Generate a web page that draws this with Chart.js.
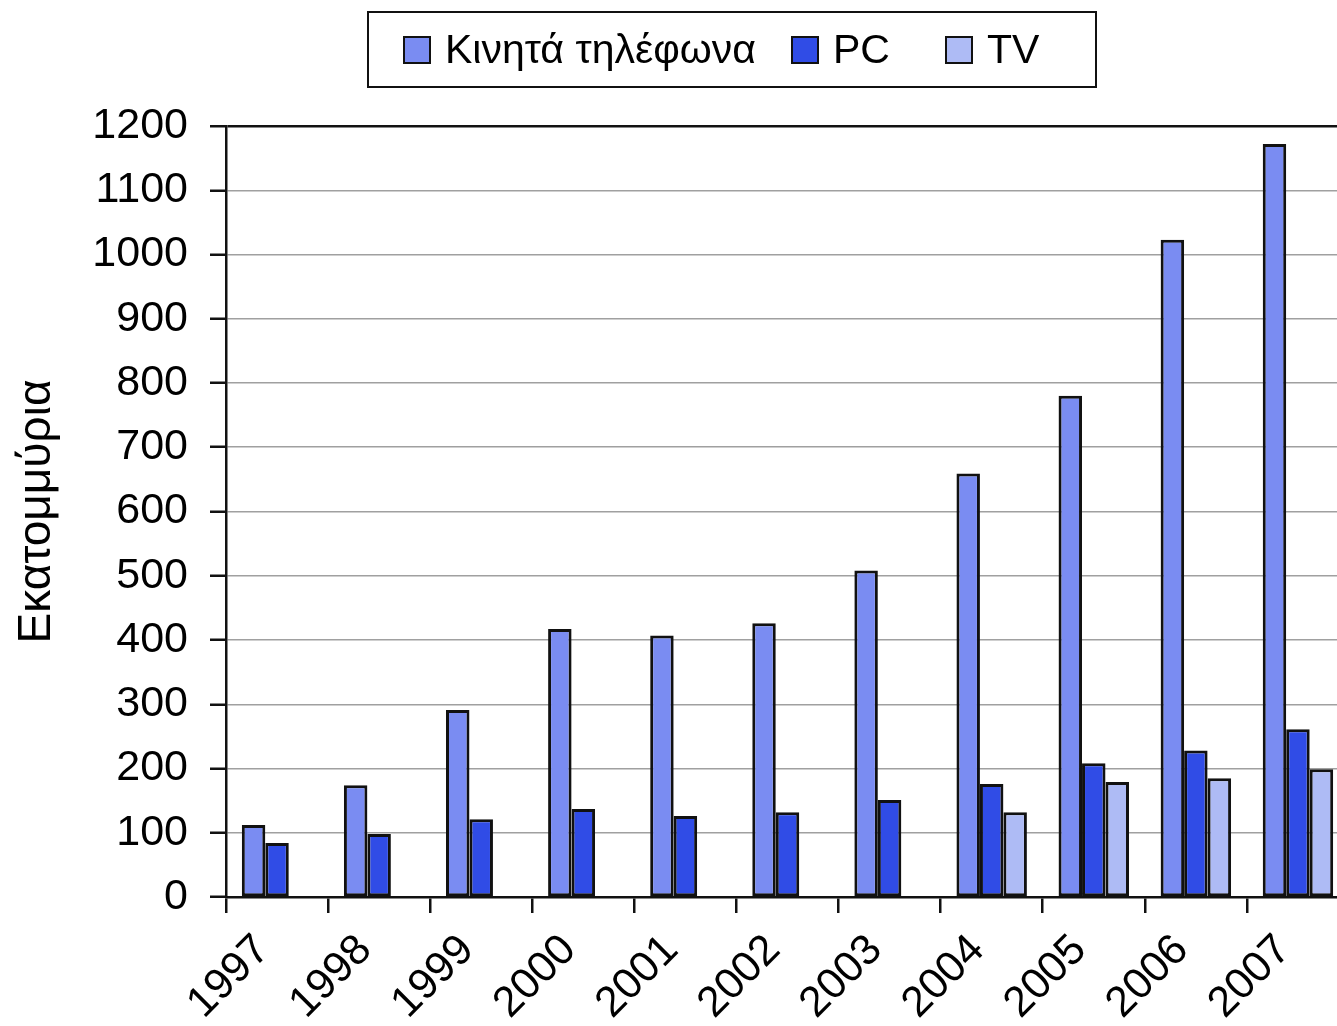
<!DOCTYPE html>
<html>
<head>
<meta charset="utf-8">
<script src="https://cdn.jsdelivr.net/npm/chart.js@4"></script>
<style>
  body { margin: 0; overflow: hidden; background: #fff; font-family: "Liberation Sans", Arial, sans-serif; }
  #wrap { position: relative; width: 1337px; height: 1026px; overflow: hidden; }
  #myChart { position: absolute; left: 0; top: 0; }
  #legend {
    position: absolute; left: 367px; top: 11px; width: 726px; height: 73px;
    border: 2px solid #111; font-size: 41px; color: #000;
  }
  #legend .item { position: absolute; top: 0; height: 73px; display: flex; align-items: center; white-space: nowrap; }
  #legend .box { width: 24px; height: 24px; border: 2.5px solid #111; margin-right: 14px; }
</style>
</head>
<body>
<div id="wrap">
  <canvas id="myChart" width="1362" height="1026"></canvas>
  <div id="legend"></div>
</div>
<script>
const years = ["1997", "1998", "1999", "2000", "2001", "2002", "2003", "2004", "2005", "2006", "2007"];
const kinita = [112, 174, 291, 417, 407, 426, 508, 659, 780, 1023, 1172];
const pc = [84, 98, 121, 137, 126, 132, 151, 176, 208, 228, 261];
const tv = [null, null, null, null, null, null, null, 132, 179, 185, 199];
const yTicks = [0, 100, 200, 300, 400, 500, 600, 700, 800, 900, 1000, 1100, 1200];

const colors = ["#7a8cf2", "#304ce6", "#aebbf5"];
const names = ["Κινητά τηλέφωνα", "PC", "TV"];
const legendX = [34, 422, 576]; // offsets inside legend box

const font = "'Liberation Sans', Arial, sans-serif";

const config = {
  type: "bar",
  data: {
    labels: years,
    datasets: [kinita, pc, tv].map((d, i) => ({
      label: names[i],
      data: d,
      backgroundColor: colors[i],
      borderColor: "#111",
      borderWidth: 3,
      borderSkipped: false,
      categoryPercentage: 0.69,
      barPercentage: 1.0,
    })),
  },
  options: {
    responsive: false,
    animation: false,
    layout: { padding: { top: 126, right: 13, left: 0, bottom: 0 } },
    plugins: {
      legend: { display: false },
      tooltip: { enabled: false },
    },
    scales: {
      x: {
        grid: {
          offset: true,
          drawOnChartArea: false,
          color: "#111",
          lineWidth: 2.5,
          tickLength: 16,
        },
        border: { color: "#111", width: 2.5 },
        ticks: {
          color: "#000",
          font: { family: font, size: 43 },
          maxRotation: 45,
          minRotation: 45,
          padding: 12,
          labelOffset: -14,
        },
        afterFit: (scale) => { scale.height = 129; },
      },
      y: {
        min: 0,
        max: 1200,
        afterBuildTicks: (scale) => { scale.ticks = yTicks.map((v) => ({ value: v })); },
        grid: {
          color: (ctx) => (ctx.tick && (ctx.tick.value === 1200 || ctx.tick.value === 0) ? "#111" : "#a0a0a0"),
          lineWidth: (ctx) => (ctx.tick && ctx.tick.value === 1200 ? 2.5 : 1.5),
          tickColor: "#111",
          tickLength: 16,
          tickWidth: 2.5,
        },
        border: { color: "#111", width: 2.5 },
        ticks: {
          color: "#000",
          font: { family: font, size: 43 },
          padding: 22,
          callback: (v) => String(v),
        },
        title: {
          display: true,
          text: "Εκατομμύρια",
          color: "#000",
          font: { family: font, size: 46 },
          padding: { top: 10, bottom: 0 },
        },
        afterFit: (scale) => { scale.width = 226; },
      },
    },
  },
};

const myChart = new Chart(document.getElementById("myChart"), config);

// legend as html
const legend = document.getElementById("legend");
names.forEach((n, i) => {
  const item = document.createElement("div");
  item.className = "item";
  item.style.left = legendX[i] + "px";
  item.innerHTML = '<span class="box" style="background:' + colors[i] + '"></span><span>' + n + "</span>";
  legend.appendChild(item);
});
</script>
</body>
</html>
